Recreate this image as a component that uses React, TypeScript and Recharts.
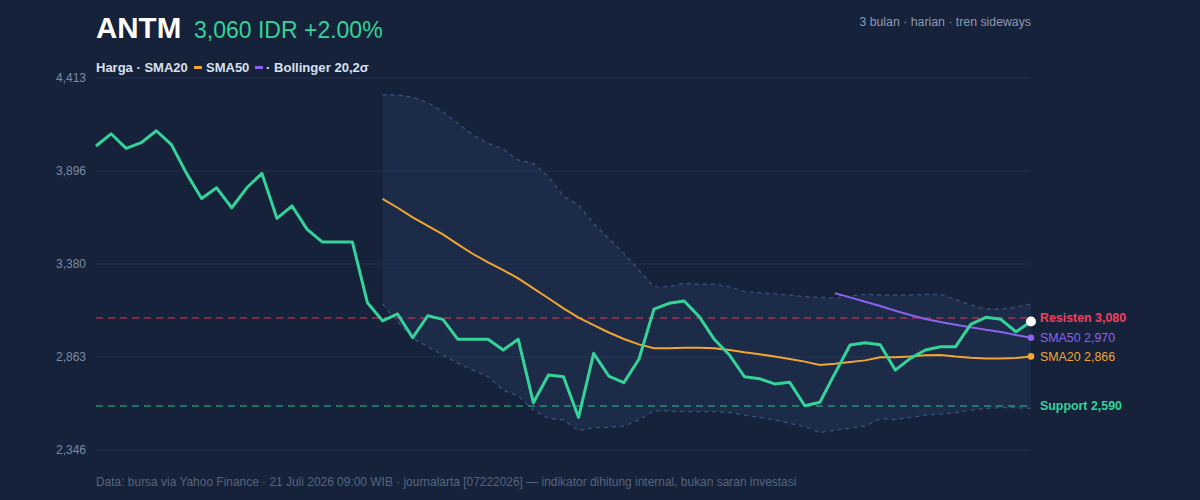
import React from 'react';
import { ComposedChart, Line, Area, XAxis, YAxis, CartesianGrid, ReferenceLine } from 'recharts';

// Daily closing prices (IDR), 63 sessions
const price = [
  4035, 4103, 4022, 4054, 4120, 4043, 3883, 3744, 3803, 3692,
  3803, 3883, 3633, 3702, 3572, 3502, 3502, 3502, 3164, 3064,
  3102, 2970, 3092, 3072, 2961, 2961, 2961, 2902, 2961, 2609,
  2763, 2753, 2527, 2883, 2757, 2720, 2850, 3129, 3161, 3174,
  3087, 2961, 2874, 2753, 2742, 2713, 2722, 2592, 2611, 2772,
  2929, 2942, 2931, 2790, 2855, 2902, 2920, 2920, 3044, 3083,
  3072, 3003, 3060,
];

const SMA20_START = 19;
const sma20 = [
  3741, 3692, 3639, 3592, 3544, 3489, 3435, 3389, 3346, 3300,
  3244, 3189, 3133, 3081, 3040, 2999, 2963, 2933, 2911, 2911,
  2914, 2914, 2912, 2902, 2889, 2878, 2865, 2852, 2837, 2818,
  2825, 2835, 2844, 2861, 2861, 2865, 2872, 2874, 2865, 2859,
  2855, 2855, 2857, 2866,
];

const SMA50_START = 49;
const sma50 = [3217, 3194, 3170, 3146, 3120, 3096, 3074, 3057, 3042, 3028, 3014, 3002, 2985, 2970];

const BB_START = 19;
const bbUpper = [
  4319, 4319, 4306, 4276, 4226, 4161, 4096, 4050, 4017, 3957,
  3939, 3864, 3757, 3707, 3605, 3522, 3439, 3346, 3253, 3253,
  3272, 3268, 3268, 3253, 3226, 3220, 3213, 3207, 3198, 3194,
  3189, 3202, 3211, 3207, 3207, 3207, 3211, 3211, 3183, 3152,
  3129, 3129, 3139, 3157,
];
const bbLower = [
  3157, 3059, 2967, 2920, 2874, 2828, 2790, 2753, 2679, 2646,
  2568, 2522, 2513, 2453, 2470, 2472, 2479, 2513, 2564, 2563,
  2559, 2559, 2559, 2555, 2540, 2527, 2513, 2494, 2475, 2442,
  2457, 2466, 2479, 2520, 2516, 2527, 2540, 2546, 2553, 2568,
  2577, 2581, 2581, 2577,
];

const yTicks = [2346, 2862.75, 3379.5, 3896.25, 4413];
const RESIST = 3080;
const SUPPORT = 2590;

const BG = '#15223a';
const GREEN = '#34d399';
const ORANGE = '#f2a532';
const PURPLE = '#8b62ee';
const RED = '#f43f5e';
const BAND = '#3b5480';
const FONT = '"Liberation Sans", Arial, Helvetica, sans-serif';

const LAST = price.length - 1;

const data = price.map((p, i) => ({
  i,
  price: p,
  sma20: i >= SMA20_START ? sma20[i - SMA20_START] : null,
  sma50: i >= SMA50_START ? sma50[i - SMA50_START] : null,
  upper: i >= BB_START ? bbUpper[i - BB_START] : null,
  lower: i >= BB_START ? bbLower[i - BB_START] : null,
  band: i >= BB_START ? [bbLower[i - BB_START], bbUpper[i - BB_START]] : null,
}));

const fmt = (v: number) => Math.round(v).toLocaleString('en-US');

const endDot = (color: string, r: number, label?: string) => (props: any) => {
  const { cx, cy, index } = props;
  if (index !== LAST || cx == null || cy == null) return <g key={`d${index}`} />;
  return (
    <g key={`d${index}`}>
      <circle cx={cx} cy={cy} r={r} fill={color} />
      {label ? (
        <text x={cx + 9} y={cy} dy="0.36em" fill={color} fontSize={12.4} fontFamily={FONT}>
          {label}
        </text>
      ) : null}
    </g>
  );
};

export default function App() {
  return (
    <div style={{ position: 'fixed', left: 0, top: 0, width: 1200, height: 500, background: BG, fontFamily: FONT }}>
      <ComposedChart
        width={1200}
        height={500}
        data={data}
        margin={{ top: 78, right: 169, bottom: 50, left: 0 }}
      >
        <CartesianGrid vertical={false} stroke="#22314f" strokeWidth={1} />
        <XAxis dataKey="i" type="number" domain={[0, LAST]} hide />
        <YAxis
          type="number"
          domain={[2346, 4413]}
          ticks={yTicks}
          width={96}
          axisLine={false}
          tickLine={false}
          tickSize={0}
          tickMargin={10}
          tickFormatter={fmt}
          tick={{ fill: '#7d8ba5', fontSize: 12, fontFamily: FONT }}
        />
        <Area
          dataKey="band"
          stroke="none"
          fill={BAND}
          fillOpacity={0.19}
          isAnimationActive={false}
          connectNulls={false}
        />
        <Line dataKey="upper" stroke={BAND} strokeWidth={1.2} strokeDasharray="4 4" dot={false} isAnimationActive={false} />
        <Line dataKey="lower" stroke={BAND} strokeWidth={1.2} strokeDasharray="4 4" dot={false} isAnimationActive={false} />
        <ReferenceLine
          y={RESIST}
          stroke={RED}
          strokeOpacity={0.6}
          strokeWidth={1.5}
          strokeDasharray="7 5"
          label={{ value: `Resisten ${fmt(RESIST)}`, position: 'right', offset: 9, fill: RED, fontSize: 12.4, fontWeight: 700, fontFamily: FONT }}
        />
        <ReferenceLine
          y={SUPPORT}
          stroke={GREEN}
          strokeOpacity={0.6}
          strokeWidth={1.5}
          strokeDasharray="7 5"
          label={{ value: `Support ${fmt(SUPPORT)}`, position: 'right', offset: 9, fill: GREEN, fontSize: 12.4, fontWeight: 700, fontFamily: FONT }}
        />
        <Line
          dataKey="sma20"
          stroke={ORANGE}
          strokeWidth={2}
          dot={endDot(ORANGE, 3.3, `SMA20 ${fmt(sma20[sma20.length - 1])}`)}
          activeDot={false}
          isAnimationActive={false}
        />
        <Line
          dataKey="sma50"
          stroke={PURPLE}
          strokeWidth={2}
          dot={endDot(PURPLE, 3.3, `SMA50 ${fmt(sma50[sma50.length - 1])}`)}
          activeDot={false}
          isAnimationActive={false}
        />
        <Line
          dataKey="price"
          stroke={GREEN}
          strokeWidth={3}
          strokeLinejoin="round"
          dot={endDot('#ffffff', 5)}
          activeDot={false}
          isAnimationActive={false}
        />
      </ComposedChart>
      <svg width={1200} height={500} style={{ position: 'absolute', left: 0, top: 0, pointerEvents: 'none' }}>
        <text x={96} y={38} fill="#ffffff" fontSize={29.5} fontWeight={700} fontFamily={FONT}>ANTM</text>
        <text x={194} y={38} fill={GREEN} fontSize={23} fontFamily={FONT}>3,060 IDR +2.00%</text>
        <text x={1031} y={26} textAnchor="end" fill="#8b9ab4" fontSize={12.3} fontFamily={FONT}>3 bulan · harian · tren sideways</text>
        <text x={96} y={72} fill="#d8e0ee" fontSize={13} fontWeight={700} fontFamily={FONT}>Harga · SMA20</text>
        <rect x={194} y={66} width={8} height={3} fill={ORANGE} />
        <text x={206} y={72} fill="#d8e0ee" fontSize={13} fontWeight={700} fontFamily={FONT}>SMA50</text>
        <rect x={255} y={66} width={8} height={3} fill={PURPLE} />
        <text x={266} y={72} fill="#d8e0ee" fontSize={13.1} fontWeight={700} fontFamily={FONT}>· Bollinger 20,2σ</text>
        <text x={96} y={486} fill="#56657f" fontSize={11.95} fontFamily={FONT}>
          Data: bursa via Yahoo Finance · 21 Juli 2026 09:00 WIB · journalarta [07222026] — indikator dihitung internal, bukan saran investasi
        </text>
      </svg>
    </div>
  );
}
